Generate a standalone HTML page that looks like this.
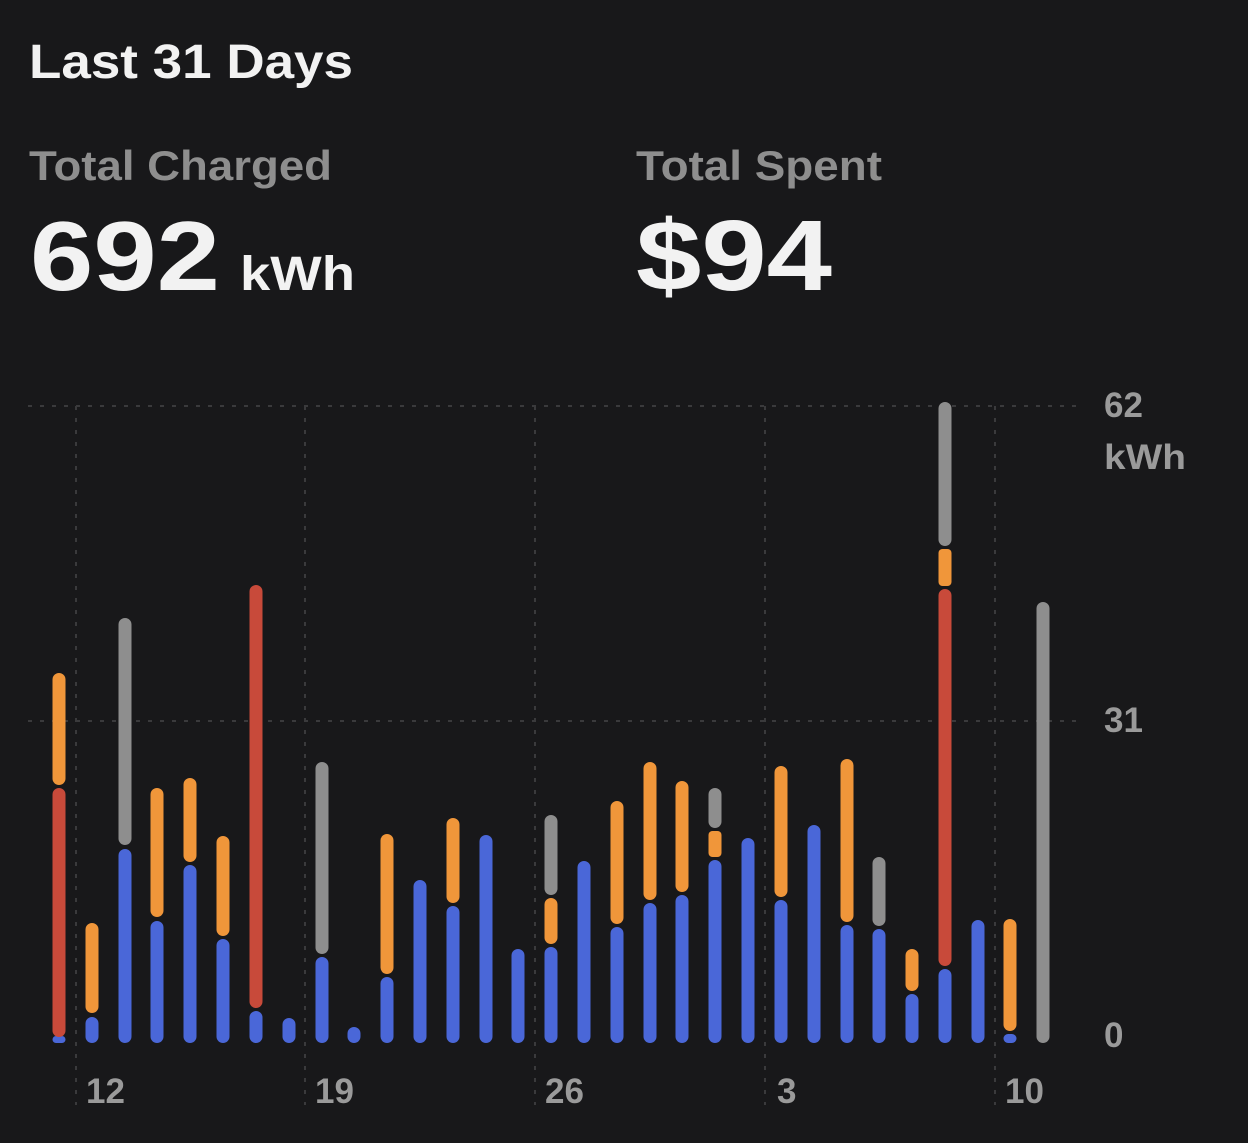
<!DOCTYPE html>
<html><head><meta charset="utf-8"><style>
html,body{margin:0;padding:0;background:#18181a;}
body{width:1248px;height:1138px;overflow:hidden;font-family:"Liberation Sans",sans-serif;}
</style></head><body>
<svg width="1248" height="1138" xmlns="http://www.w3.org/2000/svg" font-family="Liberation Sans, sans-serif">
<rect width="1248" height="1138" fill="#18181a"/>
<text x="29" y="78" font-size="48" fill="#f2f2f2" font-weight="bold" textLength="324" lengthAdjust="spacingAndGlyphs">Last 31 Days</text>
<text x="29" y="180" font-size="42" fill="#8e8e8e" font-weight="bold" textLength="303" lengthAdjust="spacingAndGlyphs">Total Charged</text>
<text x="636" y="180" font-size="42" fill="#8e8e8e" font-weight="bold" textLength="246" lengthAdjust="spacingAndGlyphs">Total Spent</text>
<text x="30" y="290" font-size="98" fill="#f2f2f2" font-weight="bold" textLength="190" lengthAdjust="spacingAndGlyphs">692</text>
<text x="240" y="290" font-size="48" fill="#f2f2f2" font-weight="bold" textLength="115" lengthAdjust="spacingAndGlyphs">kWh</text>
<text x="636" y="290" font-size="100" fill="#f2f2f2" font-weight="bold" textLength="196" lengthAdjust="spacingAndGlyphs">$94</text>
<g stroke="#3a3a3c" stroke-width="2" stroke-dasharray="4,8">
<line x1="28" y1="406" x2="1080" y2="406"/>
<line x1="28" y1="721" x2="1080" y2="721"/>
<line x1="76" y1="406" x2="76" y2="1105"/>
<line x1="305" y1="406" x2="305" y2="1105"/>
<line x1="535" y1="406" x2="535" y2="1105"/>
<line x1="765" y1="406" x2="765" y2="1105"/>
<line x1="995" y1="406" x2="995" y2="1105"/>
</g>
<g font-size="35" fill="#9a9a9a" font-weight="bold">
<text x="1104" y="417">62</text>
<text x="1104" y="469" textLength="82" lengthAdjust="spacingAndGlyphs">kWh</text>
<text x="1104" y="732">31</text>
<text x="1104" y="1047">0</text>
<text x="86" y="1103">12</text>
<text x="315" y="1103">19</text>
<text x="545" y="1103">26</text>
<text x="777" y="1103">3</text>
<text x="1005" y="1103">10</text>
</g>
<g>
<rect x="52.5" y="1036" width="13" height="7" rx="3.5" fill="#4a67d8"/>
<rect x="52.5" y="788" width="13" height="249" rx="6.5" fill="#c84a3a"/>
<rect x="52.5" y="673" width="13" height="112" rx="6.5" fill="#f0963a"/>
<rect x="85.5" y="1017" width="13" height="26" rx="6.5" fill="#4a67d8"/>
<rect x="85.5" y="923" width="13" height="90" rx="6.5" fill="#f0963a"/>
<rect x="118.5" y="849" width="13" height="194" rx="6.5" fill="#4a67d8"/>
<rect x="118.5" y="618" width="13" height="227" rx="6.5" fill="#8e8e8e"/>
<rect x="150.5" y="921" width="13" height="122" rx="6.5" fill="#4a67d8"/>
<rect x="150.5" y="788" width="13" height="129" rx="6.5" fill="#f0963a"/>
<rect x="183.5" y="865" width="13" height="178" rx="6.5" fill="#4a67d8"/>
<rect x="183.5" y="778" width="13" height="84" rx="6.5" fill="#f0963a"/>
<rect x="216.5" y="939" width="13" height="104" rx="6.5" fill="#4a67d8"/>
<rect x="216.5" y="836" width="13" height="100" rx="6.5" fill="#f0963a"/>
<rect x="249.5" y="1011" width="13" height="32" rx="6.5" fill="#4a67d8"/>
<rect x="249.5" y="585" width="13" height="423" rx="6.5" fill="#c84a3a"/>
<rect x="282.5" y="1018" width="13" height="25" rx="6.5" fill="#4a67d8"/>
<rect x="315.5" y="957" width="13" height="86" rx="6.5" fill="#4a67d8"/>
<rect x="315.5" y="762" width="13" height="192" rx="6.5" fill="#8e8e8e"/>
<rect x="347.5" y="1027" width="13" height="16" rx="6.5" fill="#4a67d8"/>
<rect x="380.5" y="977" width="13" height="66" rx="6.5" fill="#4a67d8"/>
<rect x="380.5" y="834" width="13" height="140" rx="6.5" fill="#f0963a"/>
<rect x="413.5" y="880" width="13" height="163" rx="6.5" fill="#4a67d8"/>
<rect x="446.5" y="906" width="13" height="137" rx="6.5" fill="#4a67d8"/>
<rect x="446.5" y="818" width="13" height="85" rx="6.5" fill="#f0963a"/>
<rect x="479.5" y="835" width="13" height="208" rx="6.5" fill="#4a67d8"/>
<rect x="511.5" y="949" width="13" height="94" rx="6.5" fill="#4a67d8"/>
<rect x="544.5" y="947" width="13" height="96" rx="6.5" fill="#4a67d8"/>
<rect x="544.5" y="898" width="13" height="46" rx="6.5" fill="#f0963a"/>
<rect x="544.5" y="815" width="13" height="80" rx="6.5" fill="#8e8e8e"/>
<rect x="577.5" y="861" width="13" height="182" rx="6.5" fill="#4a67d8"/>
<rect x="610.5" y="927" width="13" height="116" rx="6.5" fill="#4a67d8"/>
<rect x="610.5" y="801" width="13" height="123" rx="6.5" fill="#f0963a"/>
<rect x="643.5" y="903" width="13" height="140" rx="6.5" fill="#4a67d8"/>
<rect x="643.5" y="762" width="13" height="138" rx="6.5" fill="#f0963a"/>
<rect x="675.5" y="895" width="13" height="148" rx="6.5" fill="#4a67d8"/>
<rect x="675.5" y="781" width="13" height="111" rx="6.5" fill="#f0963a"/>
<rect x="708.5" y="860" width="13" height="183" rx="6.5" fill="#4a67d8"/>
<rect x="708.5" y="831" width="13" height="26" rx="4" fill="#f0963a"/>
<rect x="708.5" y="788" width="13" height="40" rx="6.5" fill="#8e8e8e"/>
<rect x="741.5" y="838" width="13" height="205" rx="6.5" fill="#4a67d8"/>
<rect x="774.5" y="900" width="13" height="143" rx="6.5" fill="#4a67d8"/>
<rect x="774.5" y="766" width="13" height="131" rx="6.5" fill="#f0963a"/>
<rect x="807.5" y="825" width="13" height="218" rx="6.5" fill="#4a67d8"/>
<rect x="840.5" y="925" width="13" height="118" rx="6.5" fill="#4a67d8"/>
<rect x="840.5" y="759" width="13" height="163" rx="6.5" fill="#f0963a"/>
<rect x="872.5" y="929" width="13" height="114" rx="6.5" fill="#4a67d8"/>
<rect x="872.5" y="857" width="13" height="69" rx="6.5" fill="#8e8e8e"/>
<rect x="905.5" y="994" width="13" height="49" rx="6.5" fill="#4a67d8"/>
<rect x="905.5" y="949" width="13" height="42" rx="6.5" fill="#f0963a"/>
<rect x="938.5" y="969" width="13" height="74" rx="6.5" fill="#4a67d8"/>
<rect x="938.5" y="589" width="13" height="377" rx="6.5" fill="#c84a3a"/>
<rect x="938.5" y="549" width="13" height="37" rx="4" fill="#f0963a"/>
<rect x="938.5" y="402" width="13" height="144" rx="6.5" fill="#8e8e8e"/>
<rect x="971.5" y="920" width="13" height="123" rx="6.5" fill="#4a67d8"/>
<rect x="1003.5" y="1034" width="13" height="9" rx="4.5" fill="#4a67d8"/>
<rect x="1003.5" y="919" width="13" height="112" rx="6.5" fill="#f0963a"/>
<rect x="1036.5" y="602" width="13" height="441" rx="6.5" fill="#8e8e8e"/>
</g>
</svg>
</body></html>
